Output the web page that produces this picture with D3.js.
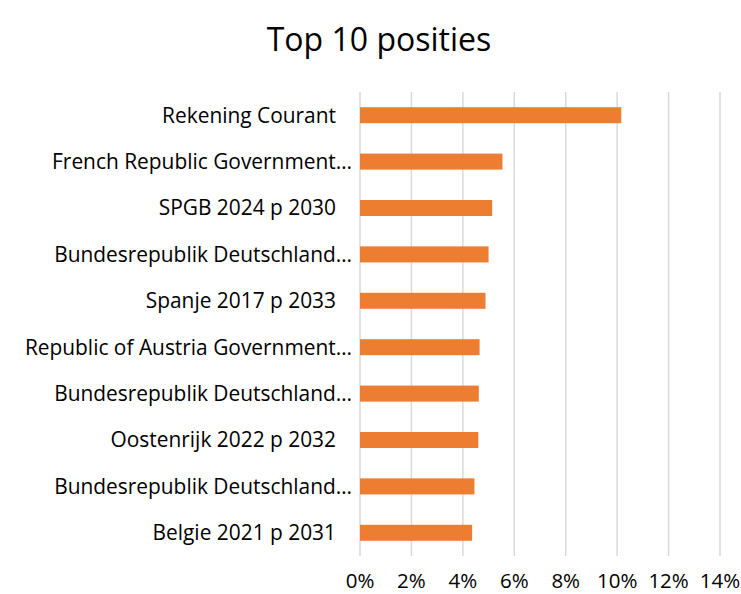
<!DOCTYPE html>
<html><head><meta charset="utf-8">
<script src="https://cdn.jsdelivr.net/npm/d3@7"></script>
<style>html,body{margin:0;padding:0;background:#fff;}svg{display:block;}</style>
</head><body>
<svg id="c" width="741" height="594"></svg>
<script>
const title = "Top 10 posities";
const categories = ["Rekening Courant","French Republic Government…","SPGB 2024 p 2030","Bundesrepublik Deutschland…","Spanje 2017 p 2033","Republic of Austria Government…","Bundesrepublik Deutschland…","Oostenrijk 2022 p 2032","Bundesrepublik Deutschland…","Belgie 2021 p 2031"];
const values = [10.18, 5.56, 5.16, 5.02, 4.90, 4.67, 4.64, 4.62, 4.47, 4.38];
const tickValues = [0, 2, 4, 6, 8, 10, 12, 14];

const font = "'Open Sans', sans-serif";
const svg = d3.select("#c");
const x = d3.scaleLinear().domain([0, 14]).range([359.5, 719.5]);
const y = d3.scaleBand().domain(d3.range(categories.length)).range([92, 556]).paddingInner(0.655).paddingOuter(0.3275);

svg.append("text").attr("x", 379).attr("y", 51).attr("text-anchor", "middle")
  .style("font-family", font).style("font-size", "32px").attr("fill", "#000").text(title);

const gx = svg.append("g").attr("transform", "translate(0,556)")
  .call(d3.axisBottom(x).tickValues(tickValues).tickSize(-464).tickFormat(d => d + "%").tickPadding(17));
gx.select(".domain").remove();
gx.selectAll(".tick line").attr("stroke", "#d9d9d9").attr("stroke-width", 1.5);
gx.selectAll(".tick text").attr("fill", "#000").style("font-family", font).style("font-size", "20.5px");

svg.append("g").selectAll("rect").data(values).join("rect")
  .attr("x", x(0) + 0.5).attr("y", (d, i) => y(i))
  .attr("width", d => x(d) - x(0) - 0.5).attr("height", y.bandwidth())
  .attr("fill", "#ED7D31");

svg.append("g").selectAll("text").data(categories).join("text")
  .attr("x", d => d.endsWith("…") ? 352 : 336)
  .attr("y", (d, i) => y(i) + y.bandwidth() / 2)
  .attr("dy", "0.35em").attr("text-anchor", "end")
  .style("font-family", font).style("font-size", "20.9px").attr("fill", "#000")
  .text(d => d);
</script>
</body></html>
